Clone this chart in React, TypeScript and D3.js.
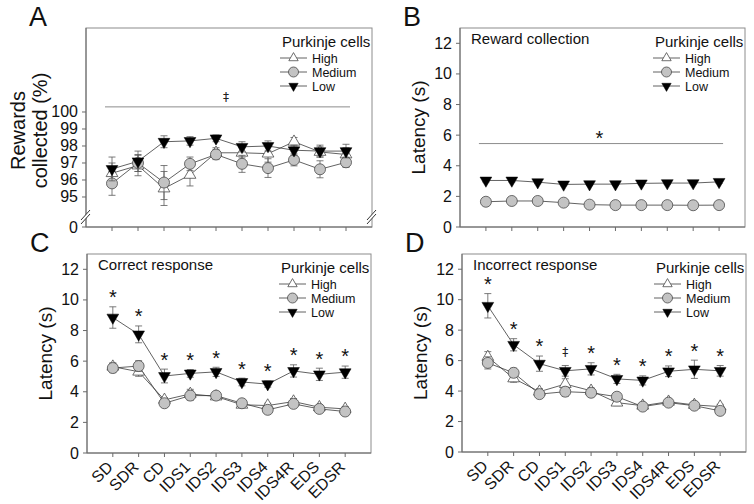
import React from "react";
import * as d3 from "d3";

const categories = ["SD", "SDR", "CD", "IDS1", "IDS2", "IDS3", "IDS4", "IDS4R", "EDS", "EDSR"];
const groups = ["High", "Medium", "Low"];

// Panel A: rewards collected (%)
const aHigh = [96.4, 96.85, 95.5, 96.3, 97.6, 97.6, 97.55, 98.25, 97.65, 97.5];
const aHighErr = [0.6, 0.6, 1.0, 0.65, 0.3, 0.3, 0.5, 0.25, 0.3, 0.4];
const aMed = [95.8, 97.0, 95.85, 96.95, 97.5, 96.95, 96.7, 97.18, 96.63, 97.04];
const aMedErr = [0.7, 0.5, 1.0, 0.4, 0.3, 0.5, 0.55, 0.35, 0.5, 0.3];
const aLow = [96.65, 97.1, 98.25, 98.3, 98.45, 97.95, 98.0, 97.75, 97.7, 97.7];
const aLowErr = [0.7, 0.6, 0.35, 0.25, 0.2, 0.3, 0.3, 0.3, 0.35, 0.4];

// Panel B: reward collection latency (s)
const bMed = [1.65, 1.7, 1.7, 1.59, 1.46, 1.43, 1.43, 1.43, 1.42, 1.43];
const bMedErr = [0.08, 0.08, 0.08, 0.08, 0.06, 0.06, 0.06, 0.06, 0.06, 0.06];
const bLow = [3.04, 3.04, 2.93, 2.78, 2.8, 2.8, 2.85, 2.87, 2.87, 2.95];
const bLowErr = [0.1, 0.1, 0.1, 0.08, 0.08, 0.08, 0.08, 0.08, 0.08, 0.1];

// Panel C: correct response latency (s)
const cHigh = [5.64, 5.31, 3.47, 3.86, 3.69, 3.15, 3.1, 3.36, 2.99, 2.88];
const cHighErr = [0.25, 0.3, 0.15, 0.3, 0.15, 0.15, 0.15, 0.2, 0.15, 0.15];
const cMed = [5.55, 5.68, 3.25, 3.75, 3.75, 3.25, 2.82, 3.21, 2.88, 2.71];
const cMedErr = [0.3, 0.35, 0.2, 0.3, 0.2, 0.2, 0.15, 0.2, 0.2, 0.2];
const cLow = [8.85, 7.75, 5.03, 5.2, 5.3, 4.64, 4.5, 5.36, 5.14, 5.28];
const cLowErr = [0.7, 0.55, 0.45, 0.25, 0.3, 0.25, 0.2, 0.4, 0.4, 0.4];
const cMarks = ["*", "*", "*", "*", "*", "*", "*", "*", "*", "*"];

// Panel D: incorrect response latency (s)
const dHigh = [6.24, 4.83, 3.96, 4.46, 4.02, 3.24, 3.04, 3.3, 3.09, 2.98];
const dHighErr = [0.35, 0.25, 0.2, 0.35, 0.2, 0.2, 0.15, 0.2, 0.15, 0.15];
const dMed = [5.85, 5.2, 3.8, 3.96, 3.89, 3.63, 2.98, 3.24, 3.04, 2.7];
const dMedErr = [0.4, 0.3, 0.2, 0.3, 0.2, 0.2, 0.15, 0.2, 0.15, 0.15];
const dLow = [9.6, 7.04, 5.8, 5.33, 5.46, 4.8, 4.7, 5.3, 5.43, 5.33];
const dLowErr = [0.8, 0.4, 0.5, 0.35, 0.4, 0.3, 0.3, 0.35, 0.6, 0.35];
const dMarks = ["*", "*", "*", "‡", "*", "*", "*", "*", "*", "*"];

const latencyTicks = [0, 2, 4, 6, 8, 10, 12];
const rewardTicks = [0, 95, 96, 97, 98, 99, 100];

const FONT = "'Liberation Sans', Arimo, 'DejaVu Sans', sans-serif";
const DAGGER_FONT = "'DejaVu Sans', 'Liberation Sans', sans-serif";
const FRAME = "#8c8c8c";
const LINE = "#3a3a3a";
const ERR = "#5a5a5a";
const MED_FILL = "#c3c3c3";

type Series = { group: string; values: number[]; errs: number[] };

function Marker({ group, x, y, legend }: { group: string; x: number; y: number; legend?: boolean }) {
  const triSize = legend ? 38 : 60;
  if (group === "Medium") {
    return <circle cx={x} cy={y} r={legend ? 5 : 5.5} fill={MED_FILL} stroke="#4a4a4a" strokeWidth={0.8} />;
  }
  const path = d3.symbol(d3.symbolTriangle, triSize)() as string;
  if (group === "High") {
    return <path d={path} transform={`translate(${x},${y})`} fill="#fff" stroke="#4a4a4a" strokeWidth={0.8} />;
  }
  return <path d={path} transform={`translate(${x},${y}) rotate(180)`} fill="#000" stroke="#000" strokeWidth={0.5} />;
}

function Legend({ right, top }: { right: number; top: number }) {
  return (
    <g fontFamily={FONT}>
      <text x={right - 90} y={top + 19} fontSize={15} fill="#111">Purkinje cells</text>
      {groups.map((g, i) => {
        const cy = top + 30 + i * 14;
        return (
          <g key={g}>
            <line x1={right - 92} x2={right - 65} y1={cy} y2={cy} stroke={LINE} strokeWidth={0.8} />
            <Marker group={g} x={right - 78.5} y={cy} legend />
            <text x={right - 60} y={cy + 4.5} fontSize={12.5} fill="#111">{g}</text>
          </g>
        );
      })}
    </g>
  );
}

type PanelProps = {
  left: number; right: number; top: number; bottom: number;
  y: d3.ScaleLinear<number, number>;
  ticks: number[];
  series: Series[];
  letter: string;
  title?: string;
  marks?: string[];
  xLabels?: boolean;
  yTitle: string[];
  brokenAxis?: boolean;
  bar?: { value: number; symbol: string; size: number };
};

function Symbol({ x, cy, m }: { x: number; cy: number; m: string }) {
  if (m === "*") {
    return <text x={x} y={cy + 11.4} fontSize={20} fontFamily={FONT} textAnchor="middle" fill="#111">*</text>;
  }
  return <text x={x} y={cy + 4.5} fontSize={12} fontFamily={DAGGER_FONT} textAnchor="middle" fill="#222">{m}</text>;
}

function Panel(p: PanelProps) {
  const x = d3.scaleLinear().domain([0, categories.length + 1]).range([p.left, p.right]);
  const xs = categories.map((_, i) => x(i + 1));
  const line = d3.line<number>().x((_, i) => xs[i]).y((v) => p.y(v));
  const low = p.series.find((s) => s.group === "Low");
  const midY = (p.top + p.bottom) / 2;
  return (
    <g fontFamily={FONT}>
      <rect x={p.left} y={p.top} width={p.right - p.left} height={p.bottom - p.top} fill="none" stroke={FRAME} strokeWidth={1} />
      <line x1={p.left} x2={p.left} y1={p.top} y2={p.bottom} stroke="#6a6a6a" />
      <line x1={p.left} x2={p.right} y1={p.bottom} y2={p.bottom} stroke="#6a6a6a" />
      {p.ticks.map((t) => (
        <g key={t}>
          <line x1={p.left - 4} x2={p.left} y1={p.y(t)} y2={p.y(t)} stroke="#6a6a6a" />
          <text x={p.left - 8} y={p.y(t) + 5.5} fontSize={16} textAnchor="end" fill="#111">{t}</text>
        </g>
      ))}
      {xs.map((xv, i) => (
        <g key={i}>
          <line x1={xv} x2={xv} y1={p.bottom} y2={p.bottom + 4} stroke="#6a6a6a" />
          {p.xLabels && (
            <text transform={`translate(${xv + 1},${p.bottom + 15}) rotate(-45)`} fontSize={16} textAnchor="end" fill="#111">
              {categories[i]}
            </text>
          )}
        </g>
      ))}
      {p.brokenAxis && [p.left, p.right].map((bx) => (
        <g key={bx}>
          <polygon points={`${bx - 5},${p.bottom - 7} ${bx + 4},${p.bottom - 17} ${bx + 4},${p.bottom - 13} ${bx - 5},${p.bottom - 3}`} fill="#fff" />
          <line x1={bx - 5} y1={p.bottom - 7} x2={bx + 4} y2={p.bottom - 17} stroke="#333" strokeWidth={1} />
          <line x1={bx - 5} y1={p.bottom - 3} x2={bx + 4} y2={p.bottom - 13} stroke="#333" strokeWidth={1} />
        </g>
      ))}
      {p.yTitle.length === 2 ? (
        <text transform={`translate(${p.left - 61},${midY + 3}) rotate(-90)`} fontSize={20} textAnchor="middle" fill="#111">
          <tspan x={0} dy={0}>{p.yTitle[0]}</tspan>
          <tspan x={0} dy={22}>{p.yTitle[1]}</tspan>
        </text>
      ) : (
        <text transform={`translate(${p.left - 35},${midY}) rotate(-90)`} fontSize={19} textAnchor="middle" fill="#111">{p.yTitle[0]}</text>
      )}
      <text x={p.left - 57} y={p.top - 2} fontSize={27} fill="#111">{p.letter}</text>
      {p.title && <text x={p.left + 11} y={p.top + 16} fontSize={15} fill="#111">{p.title}</text>}
      {p.bar && (
        <g>
          <line x1={xs[0] - 7} x2={xs[xs.length - 1] + 4} y1={p.y(p.bar.value)} y2={p.y(p.bar.value)} stroke={FRAME} strokeWidth={1} />
          <Symbol x={(xs[0] + xs[xs.length - 1]) / 2 - 3} cy={p.y(p.bar.value) - 10} m={p.bar.symbol} />
        </g>
      )}
      {p.series.map((s) => (
        <path key={s.group + "l"} d={line(s.values) as string} fill="none" stroke={LINE} strokeWidth={0.8} />
      ))}
      {p.series.map((s) => (
        <g key={s.group}>
          {s.values.map((v, i) => {
            const y1 = p.y(v + s.errs[i]);
            const y2 = p.y(v - s.errs[i]);
            return (
              <g key={i}>
                <line x1={xs[i]} x2={xs[i]} y1={y1} y2={y2} stroke={ERR} strokeWidth={0.8} />
                <line x1={xs[i] - 3.5} x2={xs[i] + 3.5} y1={y1} y2={y1} stroke={ERR} strokeWidth={0.8} />
                <line x1={xs[i] - 3.5} x2={xs[i] + 3.5} y1={y2} y2={y2} stroke={ERR} strokeWidth={0.8} />
              </g>
            );
          })}
          {s.values.map((v, i) => (
            <Marker key={i} group={s.group} x={xs[i]} y={p.y(v)} />
          ))}
        </g>
      ))}
      {p.marks && low && p.marks.map((m, i) => (
        <Symbol key={i} x={xs[i]} cy={p.y(low.values[i] + low.errs[i]) - 14} m={m} />
      ))}
      <Legend right={p.right} top={p.top} />
    </g>
  );
}

export default function App() {
  const yA = d3.scaleLinear().domain([0, 94, 104.94]).range([227, 214, 28]);
  const yB = d3.scaleLinear().domain([0, 13]).range([227, 28]);
  const yC = d3.scaleLinear().domain([0, 13]).range([453, 254]);
  const yD = d3.scaleLinear().domain([0, 13]).range([452, 254]);
  return (
    <svg width={754} height={504} style={{ position: "absolute", left: 0, top: 0, background: "#fff" }}>
      <rect width={754} height={504} fill="#fff" />
      <Panel left={86} right={372} top={28} bottom={227} y={yA} ticks={rewardTicks}
        series={[
          { group: "High", values: aHigh, errs: aHighErr },
          { group: "Medium", values: aMed, errs: aMedErr },
          { group: "Low", values: aLow, errs: aLowErr },
        ]}
        letter="A" yTitle={["Rewards", "collected (%)"]} brokenAxis bar={{ value: 100.3, symbol: "‡", size: 14 }} />
      <Panel left={460} right={745} top={28} bottom={227} y={yB} ticks={latencyTicks}
        series={[
          { group: "Medium", values: bMed, errs: bMedErr },
          { group: "Low", values: bLow, errs: bLowErr },
        ]}
        letter="B" title="Reward collection" yTitle={["Latency (s)"]} bar={{ value: 5.45, symbol: "*", size: 20 }} />
      <Panel left={87} right={371} top={254} bottom={453} y={yC} ticks={latencyTicks}
        series={[
          { group: "High", values: cHigh, errs: cHighErr },
          { group: "Medium", values: cMed, errs: cMedErr },
          { group: "Low", values: cLow, errs: cLowErr },
        ]}
        letter="C" title="Correct response" yTitle={["Latency (s)"]} marks={cMarks} xLabels />
      <Panel left={462} right={746} top={254} bottom={452} y={yD} ticks={latencyTicks}
        series={[
          { group: "High", values: dHigh, errs: dHighErr },
          { group: "Medium", values: dMed, errs: dMedErr },
          { group: "Low", values: dLow, errs: dLowErr },
        ]}
        letter="D" title="Incorrect response" yTitle={["Latency (s)"]} marks={dMarks} xLabels />
    </svg>
  );
}
